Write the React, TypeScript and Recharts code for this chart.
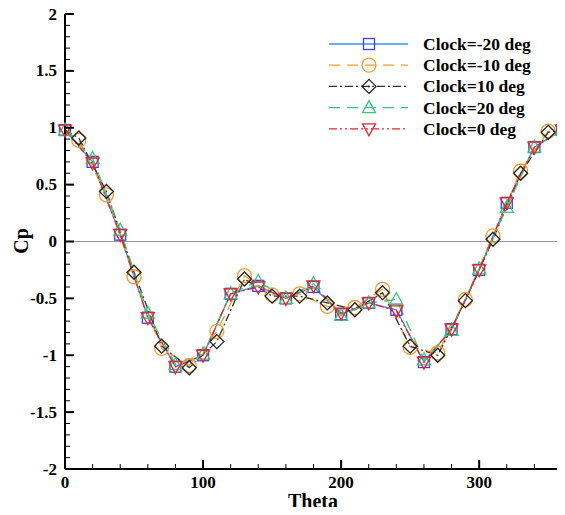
import { LineChart, Line, XAxis, YAxis, ReferenceLine, Label } from 'recharts';

// sample angles: squares/triangles every 20 deg, diamonds/circles on the odd 10s
const THETA_EVEN = [0, 20, 40, 60, 80, 100, 120, 140, 160, 180, 200, 220, 240, 260, 280, 300, 320, 340, 360];
const THETA_ODD = [0, 10, 30, 50, 70, 90, 110, 130, 150, 170, 190, 210, 230, 250, 270, 290, 310, 330, 350, 360];

const CP_M20 = [0.98, 0.7, 0.06, -0.67, -1.1, -1.0, -0.46, -0.39, -0.5, -0.4, -0.64, -0.54, -0.6, -1.06, -0.77, -0.25, 0.34, 0.83, 0.98];
const CP_0 = [0.98, 0.69, 0.06, -0.67, -1.1, -1.0, -0.46, -0.4, -0.5, -0.39, -0.63, -0.54, -0.61, -1.06, -0.77, -0.25, 0.34, 0.83, 0.98];
const CP_P20 = [0.98, 0.73, 0.1, -0.63, -1.08, -0.99, -0.46, -0.35, -0.5, -0.37, -0.65, -0.54, -0.51, -1.04, -0.78, -0.24, 0.3, 0.83, 0.98];
const CP_P10 = [0.98, 0.91, 0.44, -0.27, -0.92, -1.11, -0.88, -0.33, -0.48, -0.48, -0.54, -0.6, -0.45, -0.92, -1.0, -0.52, 0.02, 0.6, 0.96, 0.98];
const CP_M10 = [0.98, 0.89, 0.41, -0.31, -0.94, -1.09, -0.79, -0.3, -0.47, -0.46, -0.57, -0.58, -0.42, -0.93, -0.98, -0.51, 0.05, 0.62, 0.97, 0.98];

const Y_MAJOR = [-2, -1.5, -1, -0.5, 0, 0.5, 1, 1.5, 2];
const X_MAJOR = [0, 100, 200, 300];

const Y_TICKS: number[] = [];
for (let i = -20; i <= 20; i++) Y_TICKS.push(i / 10);
const X_TICKS: number[] = [];
for (let t = 0; t <= 360; t += 20) X_TICKS.push(t);

const FONT = "'Liberation Serif', 'Times New Roman', serif";

type Shape = 'square' | 'circle' | 'diamond' | 'up' | 'down';

const SERIES = [
  { name: 'Clock=-20 deg', theta: THETA_EVEN, cp: CP_M20, color: '#3d8ef0', mark: '#4040e8', dash: undefined, shape: 'square' as Shape },
  { name: 'Clock=-10 deg', theta: THETA_ODD, cp: CP_M10, color: '#f89a2c', mark: '#f89a2c', dash: '11 7', shape: 'circle' as Shape },
  { name: 'Clock=10 deg', theta: THETA_ODD, cp: CP_P10, color: '#333333', mark: '#222222', dash: '8 3 2 3', shape: 'diamond' as Shape },
  { name: 'Clock=20 deg', theta: THETA_EVEN, cp: CP_P20, color: '#3cc47a', mark: '#3cc47a', dash: '11 7', shape: 'up' as Shape },
  { name: 'Clock=0 deg', theta: THETA_EVEN, cp: CP_0, color: '#e8242c', mark: '#e8242c', dash: '8 3 2 3 2 3', shape: 'down' as Shape },
];

function marker(shape: Shape, x: number, y: number, color: string) {
  const common = { fill: 'none', stroke: color, strokeWidth: 1.3 };
  if (shape === 'square') return <rect x={x - 5.5} y={y - 5.5} width={11} height={11} {...common} />;
  if (shape === 'circle') return <circle cx={x} cy={y} r={7} {...common} />;
  if (shape === 'diamond')
    return <polygon points={`${x},${y - 7} ${x + 7},${y} ${x},${y + 7} ${x - 7},${y}`} {...common} />;
  if (shape === 'up')
    return <polygon points={`${x},${y - 7} ${x + 6.5},${y + 5} ${x - 6.5},${y + 5}`} {...common} />;
  return <polygon points={`${x},${y + 7} ${x + 6.5},${y - 5} ${x - 6.5},${y - 5}`} {...common} />;
}

const makeDot = (shape: Shape, color: string, odd: boolean) => (props: any) => {
  const { cx, cy, payload, index } = props;
  if (cx == null || cy == null) return <g key={index} />;
  if (odd && payload.theta % 20 === 0) return <g key={index} />;
  return <g key={index}>{marker(shape, cx, cy, color)}</g>;
};

const YTick = ({ x, y, payload }: any) => {
  const v = Math.round(payload.value * 10) / 10;
  const major = Y_MAJOR.includes(v);
  return (
    <g>
      <line x1={x} x2={x + (major ? 9 : 5)} y1={y} y2={y} stroke="#000" strokeWidth={major ? 2 : 1} />
      {major && (
        <text x={x - 8} y={y + 5.5} textAnchor="end" fontFamily={FONT} fontWeight="bold" fontSize={17} fill="#000">
          {v}
        </text>
      )}
    </g>
  );
};

const XTick = ({ x, y, payload }: any) => {
  const major = X_MAJOR.includes(payload.value);
  return (
    <g>
      <line x1={x} x2={x} y1={y} y2={y - (major ? 9 : 5)} stroke="#000" strokeWidth={major ? 2 : 1} />
      {major && (
        <text x={x} y={y + 19} textAnchor="middle" fontFamily={FONT} fontWeight="bold" fontSize={17} fill="#000">
          {payload.value}
        </text>
      )}
    </g>
  );
};

const ChartLegend = () => (
  <svg width={240} height={110} style={{ position: 'absolute', left: 320, top: 30 }}>
    {SERIES.map((s, i) => {
      const cy = 14 + i * 21.2;
      return (
        <g key={s.name}>
          <line x1={9} x2={88} y1={cy} y2={cy} stroke={s.color} strokeWidth={1.3} strokeDasharray={s.dash} />
          {marker(s.shape, 49, cy, s.mark)}
          {s.shape === 'diamond' && <circle cx={49} cy={cy} r={1} fill={s.mark} />}
          <text x={103} y={cy + 6} fontFamily={FONT} fontWeight="bold" fontSize={17.5} fill="#000">
            {s.name}
          </text>
        </g>
      );
    })}
  </svg>
);

export default function App() {
  return (
    <div style={{ margin: -8, width: 565, height: 515, background: '#fff', position: 'relative' }}>
      <LineChart width={565} height={515} margin={{ top: 14, right: 3, left: 10, bottom: 0 }}>
        <XAxis
          dataKey="theta"
          type="number"
          domain={[0, 360]}
          ticks={X_TICKS}
          interval={0}
          tick={<XTick />}
          tickSize={0}
          tickMargin={0}
          tickLine={false}
          height={46}
          axisLine={{ stroke: '#000', strokeWidth: 2 }}
          allowDuplicatedCategory={false}
        >
          <Label
            content={() => (
              <text x={313} y={508} textAnchor="middle" fontFamily={FONT} fontWeight="bold" fontSize={20} fill="#000">
                Theta
              </text>
            )}
          />
        </XAxis>
        <YAxis
          type="number"
          domain={[-2, 2]}
          ticks={Y_TICKS}
          interval={0}
          tick={<YTick />}
          tickSize={0}
          tickMargin={0}
          tickLine={false}
          width={55}
          axisLine={{ stroke: '#000', strokeWidth: 2 }}
        >
          <Label
            content={() => (
              <text
                x={28}
                y={241}
                transform="rotate(-90 28 241)"
                textAnchor="middle"
                fontFamily={FONT}
                fontWeight="bold"
                fontSize={20}
                fill="#000"
              >
                Cp
              </text>
            )}
          />
        </YAxis>
        <ReferenceLine y={0} stroke="#999" strokeWidth={1} />
        {SERIES.map((s) => (
          <Line
            key={s.name}
            name={s.name}
            data={s.theta.map((t, i) => ({ theta: t, cp: s.cp[i] }))}
            dataKey="cp"
            type="linear"
            stroke={s.color}
            strokeWidth={1.3}
            strokeDasharray={s.dash}
            dot={makeDot(s.shape, s.mark, s.theta === THETA_ODD)}
            activeDot={false}
            isAnimationActive={false}
          />
        ))}
      </LineChart>
      <ChartLegend />
    </div>
  );
}
